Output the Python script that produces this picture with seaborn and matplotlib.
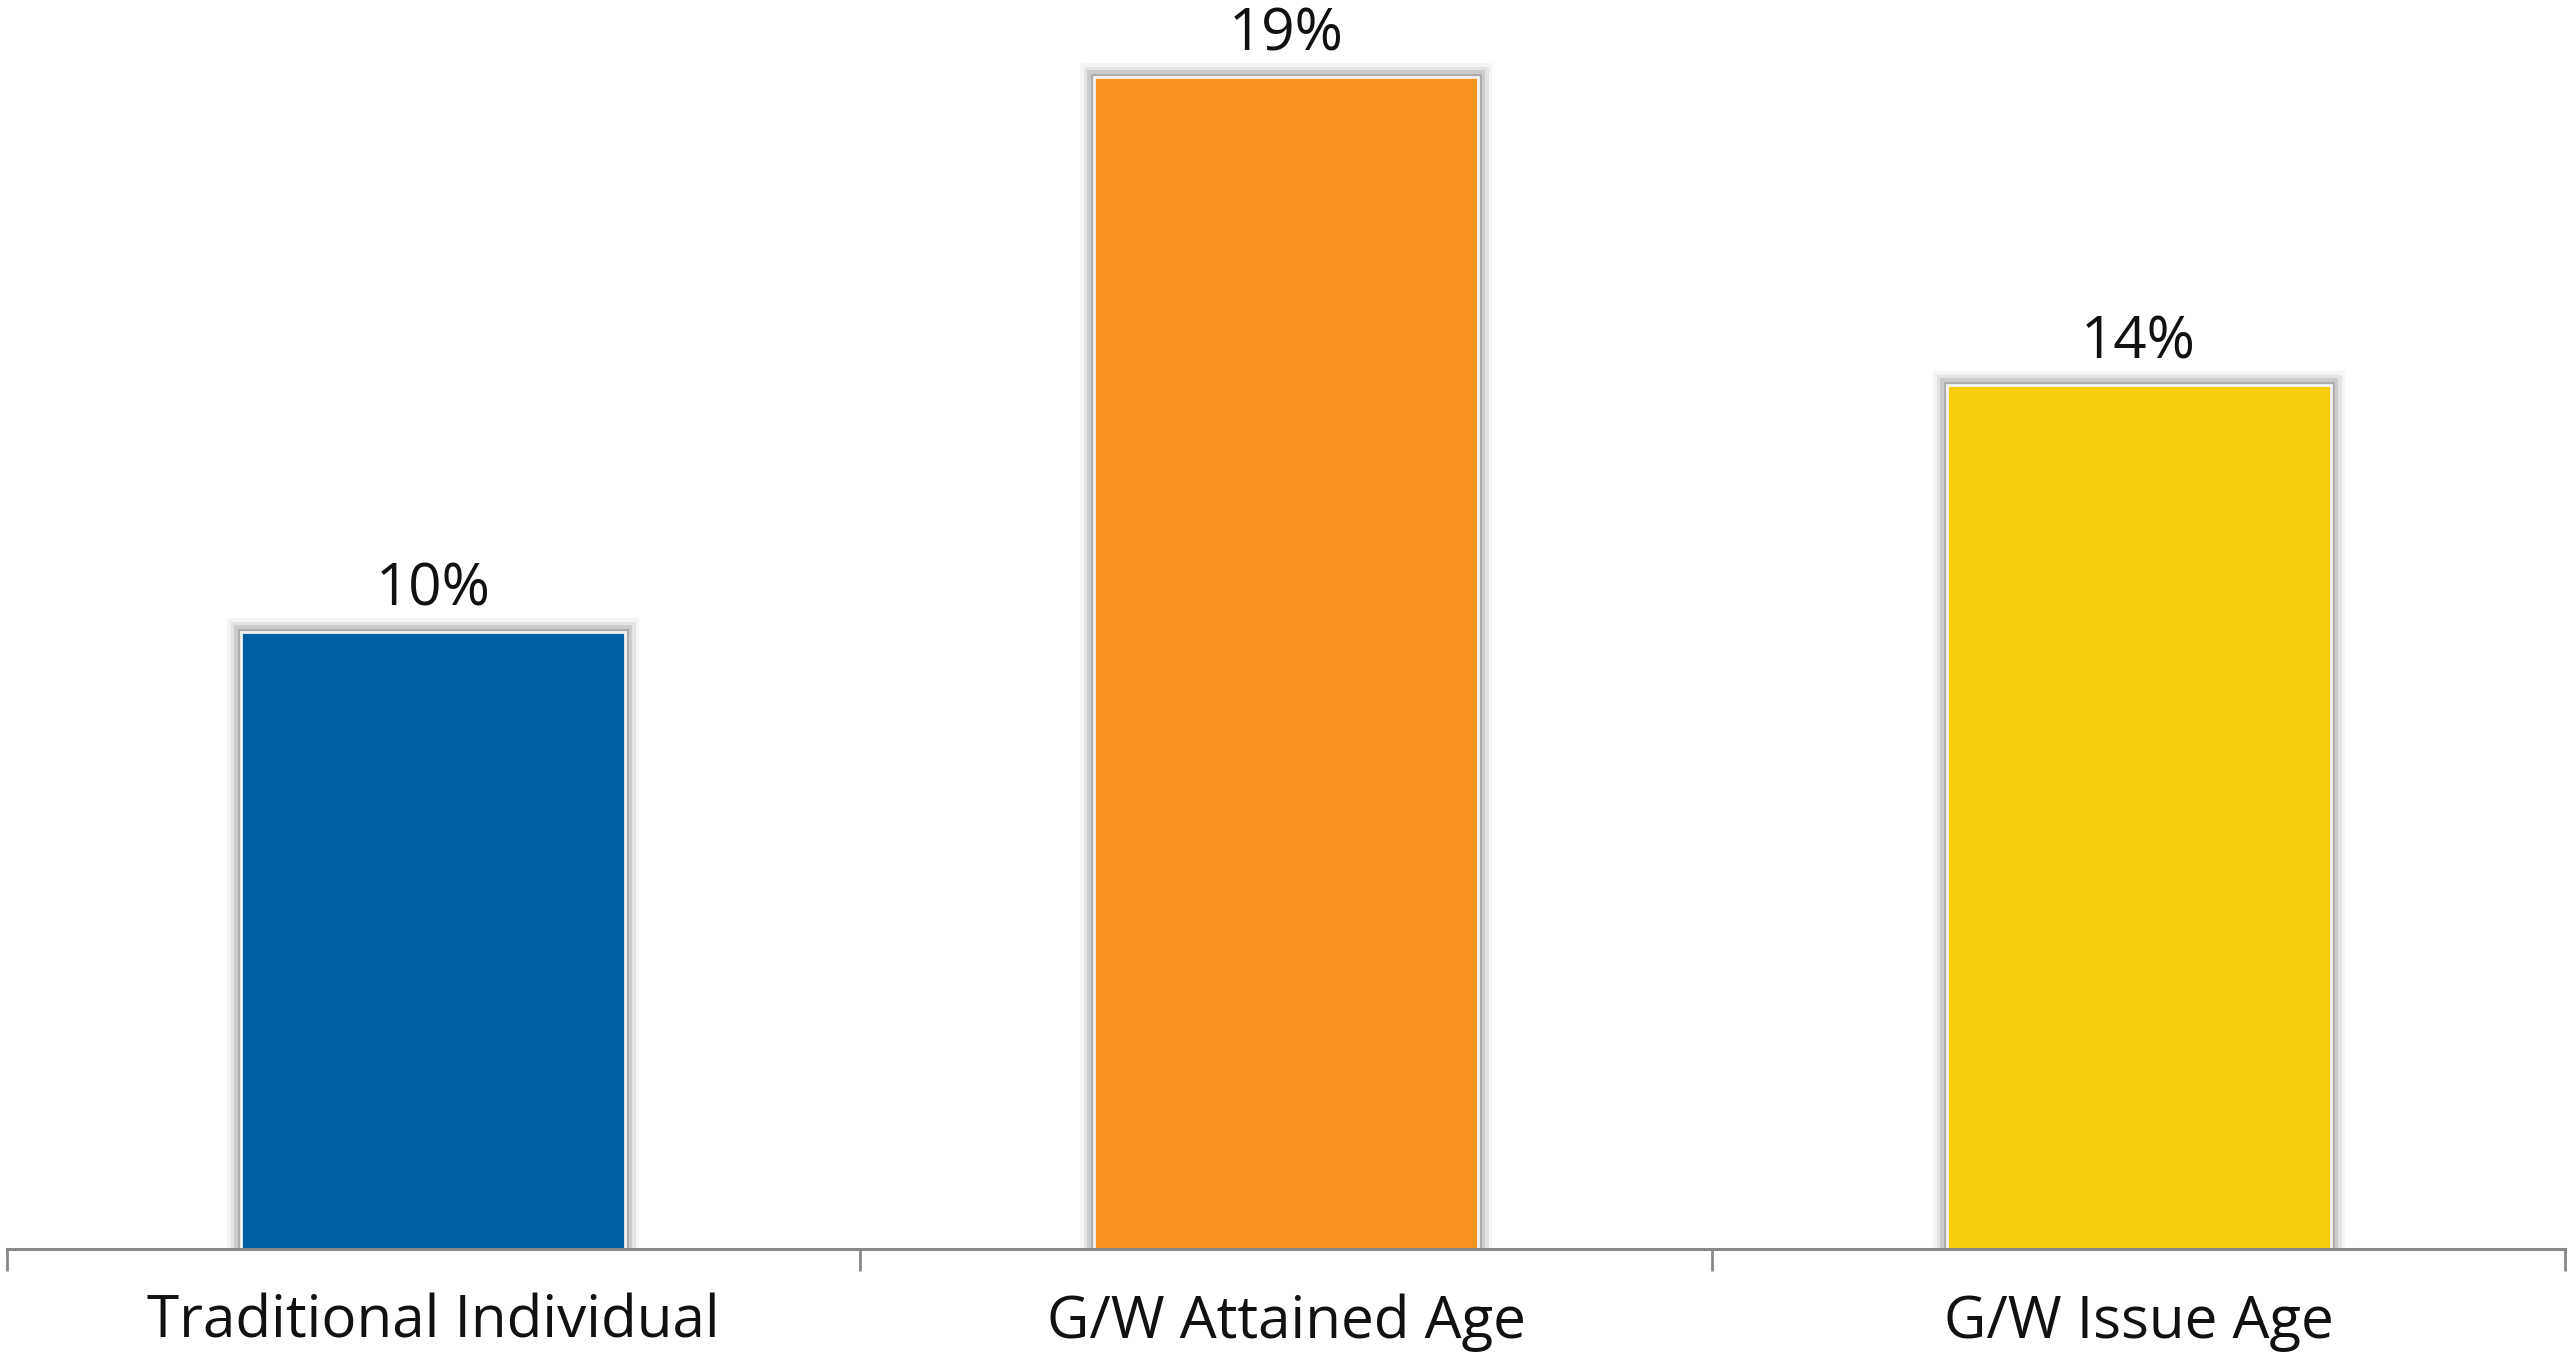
import matplotlib
matplotlib.use("Agg")
import matplotlib.pyplot as plt
import matplotlib.patheffects as pe
import seaborn as sns
import pandas as pd

categories = ["Traditional Individual", "G/W Attained Age", "G/W Issue Age"]
values = [10, 19, 14]
labels = ["10%", "19%", "14%"]
colors = ["#005FA0", "#F7931E", "#F8CD0B"]

sns.set_theme(style="white")
plt.rcParams['font.family'] = ['Open Sans', 'DejaVu Sans']

df = pd.DataFrame({"cat": categories, "val": values})

W, H = 2575, 1362
fig = plt.figure(figsize=(W / 100, H / 100), dpi=100)
ax = fig.add_axes([7 / W, 1 - 1249 / H, (2565 - 7) / W, 1249 / H])

sns.barplot(data=df, x="cat", y="val", hue="cat", palette=colors, legend=False,
            width=0.45, ax=ax, edgecolor="#F2F2F2", linewidth=2.0, saturation=1)

shadow = [pe.Stroke(linewidth=20, foreground="black", alpha=0.04),
          pe.Stroke(linewidth=15, foreground="black", alpha=0.07),
          pe.Stroke(linewidth=10, foreground="black", alpha=0.10),
          pe.Stroke(linewidth=5, foreground="black", alpha=0.15),
          pe.Normal()]
for p in ax.patches:
    p.set_path_effects(shadow)

for i, (v, lab) in enumerate(zip(values, labels)):
    ax.annotate(lab, (i, v), xytext=(0, 13), textcoords="offset pixels",
                ha="center", va="bottom", fontsize=42, color="#111111")

ax.set_xlim(-0.5, 2.5)
ax.set_ylim(0, 20.25)
ax.set_yticks([])
ax.set_xlabel("")
ax.set_ylabel("")
for s in ["top", "right", "left"]:
    ax.spines[s].set_visible(False)
ax.spines["bottom"].set_color("#888888")
ax.spines["bottom"].set_linewidth(2.2)

ax.set_xticks([-0.5, 0.5, 1.5, 2.5], minor=True)
ax.tick_params(axis="x", which="minor", length=16, width=2, color="#888888", direction="out", bottom=True)
ax.tick_params(axis="x", which="major", length=0, pad=32, labelsize=42, labelcolor="#111111")

fig.savefig("out.png", dpi=100, facecolor="white")
